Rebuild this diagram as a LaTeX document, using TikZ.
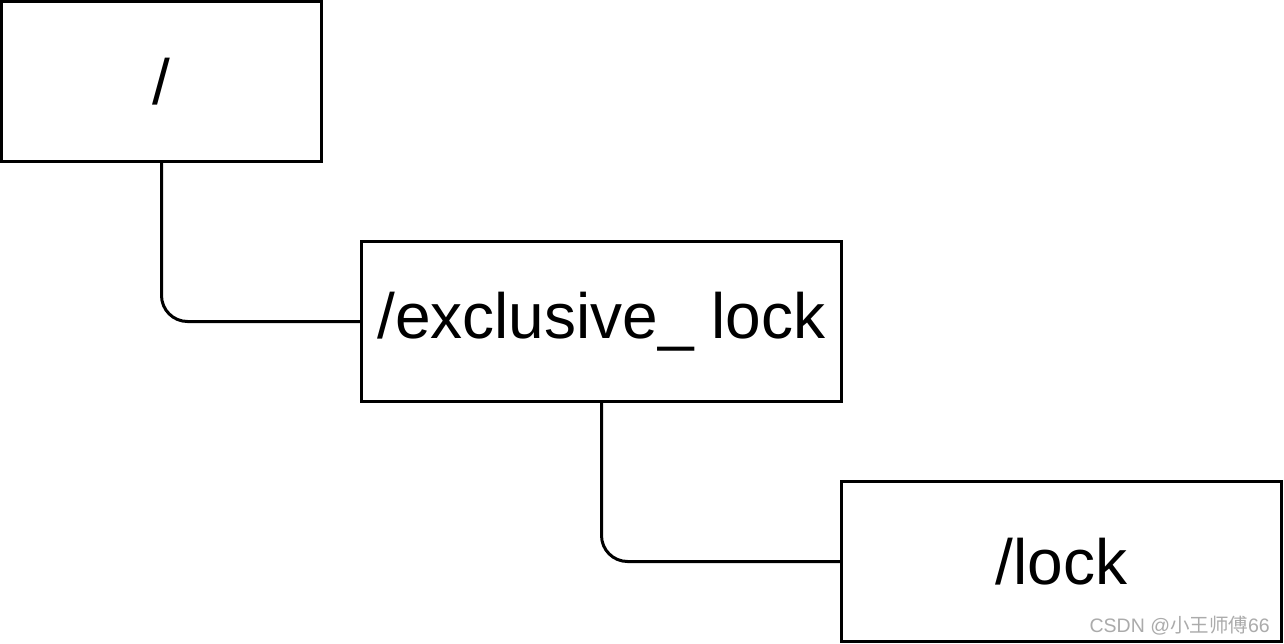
\documentclass[tikz,border=0pt]{standalone}
\usepackage{fontspec}
\setmainfont{Liberation Sans}
\newfontfamily\cjk{Noto Sans CJK SC}
\begin{document}
\begin{tikzpicture}[x=1pt,y=-1pt,
  box/.style={draw,line width=3pt,minimum width=320pt,minimum height=160pt,inner sep=0pt,font=\fontsize{64}{70}\selectfont,anchor=north west},
  conn/.style={line width=3pt,rounded corners=26pt}]
\useasboundingbox (0,0) rectangle (1284,644);
\fill[white] (0,0) rectangle (1284,644);
\node[box] (root) at (0,0) {/};
\node[box,minimum width=480pt] (ex) at (360,240) {/exclusive\_ lock};
\node[box,minimum width=440pt] (lock) at (840,480) {/lock};
\draw[conn] (root.south) |- (ex.west);
\draw[conn] (ex.south) |- (lock.west);
\node[text=black!33,font=\fontsize{19.5}{22}\selectfont,anchor=east,inner sep=0pt] (wm) at (1270,626) {CSDN @{\cjk 小王师傅}66};
\end{tikzpicture}
\end{document}
